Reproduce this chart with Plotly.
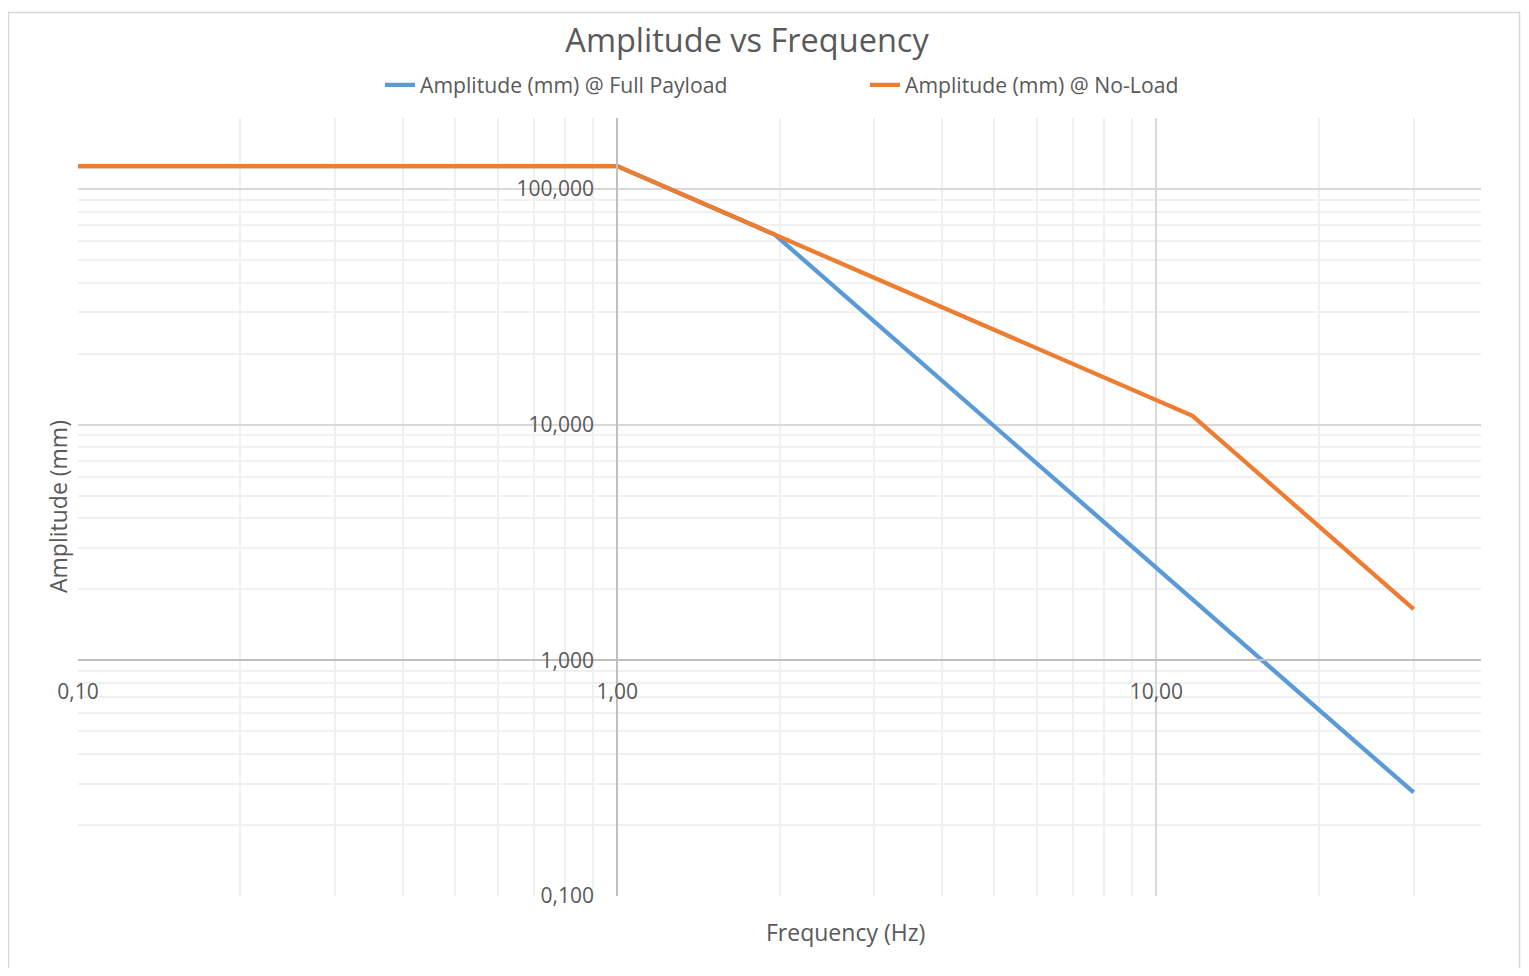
import math
import plotly.graph_objects as go

# ---- data ----
freq_hz = [0.1, 1.0, 1.96, 11.67, 30.0]
amp_full_payload = [125, 125, 64, 1.805, 0.275]
amp_no_load = [125, 125, 64, 10.9, 1.65]

series_names = ["Amplitude (mm) @ Full Payload", "Amplitude (mm) @ No-Load"]
series_colors = ["#5B9BD5", "#ED7D31"]

x_major = [0.1, 1, 10]
x_major_text = ["0,10", "1,00", "10,00"]
y_major = [0.1, 1, 10, 100]
y_major_text = ["0,100", "1,000", "10,000", "100,000"]
x_minor = [0.2, 0.3, 0.4, 0.5, 0.6, 0.7, 0.8, 0.9,
           2, 3, 4, 5, 6, 7, 8, 9, 20, 30, 40]
y_minor = [0.2, 0.3, 0.4, 0.5, 0.6, 0.7, 0.8, 0.9,
           2, 3, 4, 5, 6, 7, 8, 9,
           20, 30, 40, 50, 60, 70, 80, 90, 200]

x_min, x_max = 0.1, 40
y_min, y_max = 0.1, 200
cross_x, cross_y = 1, 1

# ---- layout geometry (page body adds an 8px offset) ----
OFF = 8
W, H = 1529 - 2 * OFF, 976 - 2 * OFF
L, T = 78 - OFF, 118 - OFF
R = W - (1481 - OFF)
B = H - (896 - OFF)
pw, ph = W - L - R, H - T - B

FONT = "Open Sans"
TXT = "#595959"


def px_x(x):   # page pixel -> paper x
    return (x - OFF - L) / pw


def px_y(y):   # page pixel -> paper y
    return (H - B - (y - OFF)) / ph


xr = [math.log10(x_min), math.log10(x_max)]
yr = [math.log10(y_min), math.log10(y_max)]
x_pos = (math.log10(cross_x) - yr[0]) / (yr[1] - yr[0])   # where x-axis line sits
y_pos = (math.log10(cross_y) - xr[0]) / (xr[1] - xr[0])   # where y-axis line sits

fig = go.Figure()
fig.add_trace(go.Scatter(x=freq_hz, y=amp_full_payload, mode="lines",
                         name=series_names[0],
                         line=dict(color=series_colors[0], width=4.3)))
fig.add_trace(go.Scatter(x=freq_hz, y=amp_no_load, mode="lines",
                         name=series_names[1],
                         line=dict(color=series_colors[1], width=4.3)))

fig.update_layout(
    width=W, height=H,
    margin=dict(l=L, r=R, t=T, b=B, pad=0),
    paper_bgcolor="white", plot_bgcolor="white",
    font=dict(family=FONT, color=TXT),
    title=dict(text="Amplitude vs Frequency", font=dict(size=32.5, color=TXT, family=FONT),
               xref="container", x=(747 - OFF) / W, xanchor="center",
               yref="container", y=1 - (41 - OFF) / H, yanchor="middle"),
    legend=dict(orientation="h", xref="container", yref="container",
                x=(380 - OFF) / W, xanchor="left", y=1 - (85 - OFF) / H, yanchor="middle",
                font=dict(size=21.2, color=TXT, family=FONT),
                entrywidth=440, entrywidthmode="pixels",
                bgcolor="rgba(0,0,0,0)", traceorder="normal"),
    xaxis=dict(type="log", range=xr, domain=[0, 1], anchor="free", position=x_pos,
               showline=True, linecolor="#bfbfbf", linewidth=2, mirror=False,
               tickmode="array", tickvals=x_major, ticktext=x_major_text,
               ticks="", ticklabelstandoff=12,
               tickfont=dict(size=21, color=TXT, family=FONT),
               showgrid=True, gridcolor="#d9d9d9", gridwidth=1.5, zeroline=False,
               minor=dict(tickmode="array", tickvals=x_minor, showgrid=True,
                          gridcolor="#f0f0f0", gridwidth=1.5, ticks="")),
    yaxis=dict(type="log", range=yr, domain=[0, 1], anchor="free", position=y_pos,
               showline=True, linecolor="#bfbfbf", linewidth=2, mirror=False,
               tickmode="array", tickvals=y_major, ticktext=y_major_text,
               ticks="", ticklabelstandoff=18,
               tickfont=dict(size=21, color=TXT, family=FONT),
               showgrid=True, gridcolor="#d9d9d9", gridwidth=1.5, zeroline=False,
               minor=dict(tickmode="array", tickvals=y_minor, showgrid=True,
                          gridcolor="#f0f0f0", gridwidth=1.5, ticks="")),
    showlegend=True,
)

# axis titles (placed at the plot edges, as in the reference)
fig.add_annotation(text="Frequency (Hz)", xref="paper", yref="paper",
                   x=px_x(845.5), y=px_y(932),
                   xanchor="center", yanchor="middle", showarrow=False,
                   font=dict(size=23, color=TXT, family=FONT))
fig.add_annotation(text="Amplitude (mm)", xref="paper", yref="paper",
                   x=px_x(58), y=px_y(507), textangle=-90,
                   xanchor="center", yanchor="middle", showarrow=False,
                   font=dict(size=23, color=TXT, family=FONT))

# outer chart border
fig.add_shape(type="rect", xref="paper", yref="paper",
              x0=px_x(8.5), x1=px_x(1519.5),
              y0=px_y(975), y1=px_y(12.5),
              line=dict(color="#d9d9d9", width=1.5), fillcolor="rgba(0,0,0,0)",
              layer="below")

fig.write_html("out.html")
